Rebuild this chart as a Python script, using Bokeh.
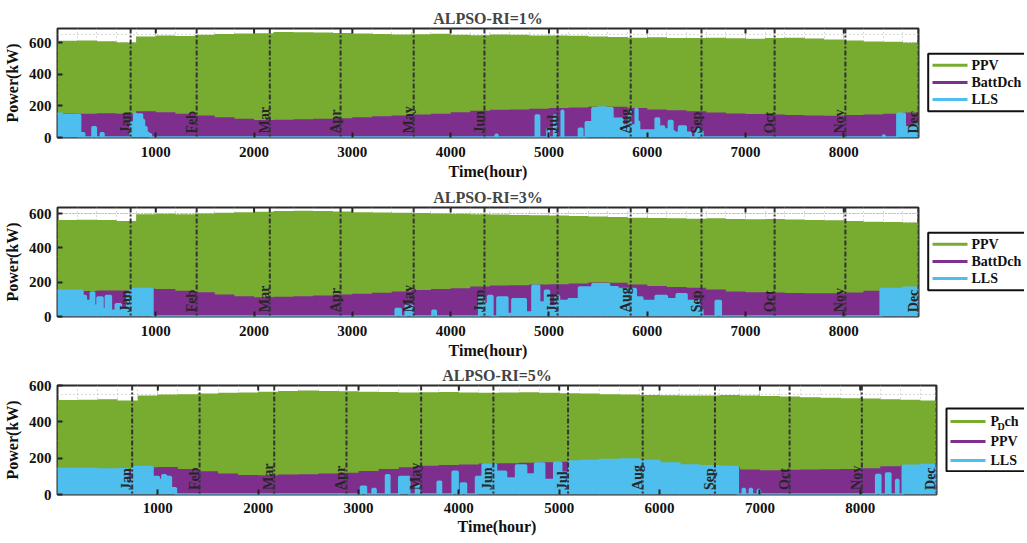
import math
from bokeh.plotting import figure
from bokeh.layouts import column, row
from bokeh.models import Range1d, FixedTicker, Span
from bokeh.core.properties import value
from bokeh.embed import file_html
from bokeh.resources import INLINE

GREEN = "#77AC30"
PURPLE = "#7E2F8E"
BLUE = "#4DBEEE"
FONT = "Liberation Serif"

# ---------------- data ----------------
HOURS_END = 8760
bin_hours = list(range(0, 8800, 200))  # 44 bin starts (200 h bins)
month_end_hours = [744, 1416, 2160, 2880, 3624, 4344, 5088, 5832, 6552, 7296, 8016, 8760]
month_names = ["Jan", "Feb", "Mar", "Apr", "May", "Jun", "Jul", "Aug", "Sep", "Oct", "Nov", "Dec"]
x_ticks = [1000, 2000, 3000, 4000, 5000, 6000, 7000, 8000]
y_ticks = [0, 200, 400, 600]

titles = ["ALPSO-RI=1%", "ALPSO-RI=3%", "ALPSO-RI=5%"]

# RI = 1 %
ppv1 = [612, 614, 610, 602, 640, 645, 642, 650, 655, 658, 660, 668, 666, 664, 662, 658, 655, 652, 654, 656, 650, 648,
        652, 650, 646, 645, 644, 640, 636, 632, 634, 630, 630, 632, 628, 625, 630, 632, 626, 620, 614, 608, 606, 600]
batt1 = [152, 150, 153, 150, 166, 160, 150, 140, 128, 118, 110, 112, 115, 118, 122, 128, 135, 140, 145, 150, 160, 170,
         176, 178, 182, 186, 190, 195, 194, 186, 178, 172, 166, 158, 152, 148, 146, 142, 140, 138, 142, 146, 150, 158]
lls1_hours = [0, 50, 68, 230, 237, 271, 356, 390, 441, 468, 746, 780, 800, 860, 880, 905, 925, 950, 4459, 4476,
              4866, 4900, 4985, 4998, 5053, 5068, 5130, 5145, 5305, 5340, 5375, 5442, 5500, 5580, 5646, 5748, 5816,
              5830, 5850, 5883, 5900, 5917, 6086, 6120, 6140, 6171, 6220, 6256, 6275, 6324, 6392, 6443, 6494, 6520,
              6545, 6561, 8400, 8415, 8545, 8620, 8720, 8760]
lls1_kw = [150, 88, 142, 0, 27, 0, 65, 0, 27, 0, 95, 150, 145, 110, 65, 30, 20, 0, 17, 0,
           139, 0, 55, 0, 139, 0, 170, 0, 55, 0, 97, 185, 190, 185, 118, 76, 170,
           60, 76, 181, 100, 44, 120, 60, 70, 50, 105, 40, 30, 70, 30, 0, 55, 20,
           40, 0, 12, 0, 150, 65, 80, 80]

# RI = 3 %
ppv2 = [562, 564, 562, 556, 595, 598, 596, 600, 605, 608, 610, 615, 616, 614, 612, 608, 606, 604, 603, 600, 598, 596,
        594, 592, 590, 588, 585, 582, 580, 576, 574, 572, 570, 572, 568, 566, 568, 565, 562, 560, 556, 552, 550, 548]
batt2 = [150, 148, 152, 152, 162, 160, 150, 142, 128, 118, 112, 115, 118, 122, 128, 132, 138, 145, 155, 160, 165, 175,
         180, 182, 186, 188, 192, 198, 196, 186, 178, 172, 168, 158, 146, 142, 140, 137, 136, 136, 140, 150, 158, 166]
lls2_hours = [0, 254, 288, 339, 373, 407, 458, 492, 543, 593, 644, 712, 739, 966, 3441, 3492, 3543, 3611, 3815, 3849,
              4290, 4340, 4380, 4425, 4476, 4577, 4628, 4764, 4832, 4900, 4960, 5000, 5068, 5102, 5200, 5306, 5442,
              5612, 5700, 5883, 5950, 6086, 6200, 6300, 6400, 6527, 6561, 6697, 6748, 8375, 8600, 8760]
lls2_kw = [150, 120, 91, 140, 62, 110, 43, 120, 33, 72, 43, 140, 160, 0, 43, 0, 62, 0, 33, 0,
           110, 72, 120, 0, 110, 15, 101, 24, 179, 82, 150, 60, 120, 90, 101, 169, 188,
           170, 160, 110, 90, 120, 100, 130, 90, 40, 0, 90, 0, 160, 168, 168]

# RI = 5 %
ppv3 = [520, 522, 524, 518, 545, 550, 552, 556, 560, 562, 565, 570, 572, 570, 568, 565, 564, 562, 563, 564, 562, 560,
        562, 563, 560, 558, 556, 552, 550, 548, 546, 545, 545, 548, 545, 542, 540, 536, 532, 530, 528, 525, 522, 518]
batt3 = [140, 140, 138, 139, 150, 152, 140, 128, 115, 108, 106, 110, 112, 116, 120, 130, 140, 150, 158, 162, 165, 170,
         172, 175, 178, 180, 185, 190, 192, 185, 170, 160, 155, 152, 138, 134, 136, 138, 139, 140, 145, 155, 160, 162]
lls3_hours = [0, 200, 400, 600, 698, 744, 800, 947, 1010, 1045, 1080, 1130, 1180, 3024, 3074, 3140, 3170, 3274, 3307,
              3406, 3506, 3573, 3606, 3789, 3822, 3938, 3988, 4021, 4071, 4171, 4237, 4370, 4470, 4570, 4670, 4760,
              4850, 4950, 5020, 5100, 5200, 5400, 5600, 5800, 6000, 6200, 6400, 6600, 6780, 6829, 6850, 6900, 6920,
              6980, 7000, 8159, 8200, 8258, 8300, 8358, 8380, 8424, 8600, 8760]
lls3_kw = [140, 140, 138, 139, 60, 150, 152, 97, 80, 106, 97, 35, 0, 42, 0, 30, 0, 106, 0,
           97, 0, 50, 0, 70, 0, 125, 0, 60, 0, 97, 165, 125, 88, 160, 110, 170,
           80, 175, 120, 182, 185, 190, 192, 185, 170, 160, 155, 152, 0, 30, 0, 30, 0,
           25, 0, 107, 0, 115, 0, 80, 0, 158, 162, 162]

legend_labels_12 = ["PPV", "BattDch", "LLS"]
legend_labels_3 = ["PDch", "PPV", "LLS"]

FRAME_H = 109
LABEL_SHIFT_H = 55   # month label gap left of the dashed line (hours)
LABEL_LIFT_KW = 25   # month label lift above the axis (kW)


def main_fig(title, ppv, batt, lls_h, lls_v, ytop, frame_w, tick_standoff, label_standoff):
    p = figure(frame_width=frame_w, frame_height=FRAME_H, x_range=Range1d(0, HOURS_END), y_range=Range1d(0, ytop),
               output_backend="svg", toolbar_location=None,
               min_border_left=52, min_border_right=4, min_border_top=0, min_border_bottom=0)
    xs = bin_hours + [HOURS_END]
    p.varea_step(x=xs, y1=0, y2=ppv + [ppv[-1]], step_mode="after", fill_color=GREEN)
    p.varea_step(x=xs, y1=0, y2=batt + [batt[-1]], step_mode="after", fill_color=PURPLE)
    p.varea_step(x=lls_h, y1=0, y2=lls_v, step_mode="after", fill_color=BLUE)
    p.step(x=lls_h, y=lls_v, mode="after", line_color=BLUE, line_width=2.5)

    for m in month_end_hours:
        p.add_layout(Span(location=m, dimension="height", line_color="#333333",
                          line_width=2, line_dash="5 2 2 2"))
    p.text(x=[m - LABEL_SHIFT_H for m in month_end_hours], y=[LABEL_LIFT_KW] * len(month_end_hours),
           text=month_names, angle=math.pi / 2,
           text_align="left", text_baseline="alphabetic",
           text_font=value(FONT), text_font_style="bold", text_font_size="14px", text_color="#262626")

    # inward tick marks on the top border (clipped to the frame: half of each dash shows)
    p.scatter(x=x_ticks, y=[ytop] * len(x_ticks), marker="dash", angle=math.pi / 2, size=10,
              line_color="#222222", line_width=2)

    p.xaxis.ticker = FixedTicker(ticks=x_ticks, minor_ticks=list(range(0, HOURS_END, 200)))
    p.yaxis.ticker = FixedTicker(ticks=y_ticks, minor_ticks=list(range(0, 800, 50)))
    p.xaxis.axis_label = "Time(hour)"
    p.yaxis.axis_label = "Power(kW)"
    for ax in (p.xaxis[0], p.yaxis[0]):
        ax.axis_line_color = None
        ax.major_tick_in = 5
        ax.major_tick_out = 0
        ax.minor_tick_out = 0
        ax.major_tick_line_width = 2
        ax.major_tick_line_color = "#222222"
        ax.minor_tick_line_color = None
        ax.major_label_text_font = FONT
        ax.major_label_text_font_style = "bold"
        ax.major_label_text_font_size = "15px"
        ax.major_label_text_color = "#111111"
        ax.axis_label_text_font = FONT
        ax.axis_label_text_font_style = "bold"
        ax.axis_label_text_font_size = "16px"
        ax.axis_label_text_color = "#111111"
    p.xaxis.major_label_standoff = tick_standoff
    p.xaxis.axis_label_standoff = label_standoff
    p.yaxis.major_label_standoff = 6
    p.yaxis.axis_label_standoff = 5

    for g in (p.xgrid[0], p.ygrid[0]):
        g.grid_line_color = "#9a9a9a"
        g.grid_line_dash = "1 2"
        g.minor_grid_line_color = "#b5b5b5"
        g.minor_grid_line_dash = "1 3"

    p.outline_line_color = "#2a2a2a"
    p.outline_line_width = 2
    p.background_fill_color = "white"

    p.title.text = title
    p.title.align = "center"
    p.title.text_font = FONT
    p.title.text_font_style = "bold"
    p.title.text_font_size = "16px"
    p.title.standoff = 3
    return p


def legend_fig(width, box_left, box_top, box_bottom, rows_y, line_x0, line_x1, text_x, labels, subscript=False):
    # coordinates: x in px from the figure's left edge, y in px below the top of the plot frame
    f = figure(title=None, frame_width=width, frame_height=FRAME_H, x_range=Range1d(0, width),
               y_range=Range1d(FRAME_H, 0),
               x_axis_type=None, y_axis_type=None, output_backend="svg", toolbar_location=None,
               min_border_left=0, min_border_right=0, min_border_top=0, min_border_bottom=0,
               outline_line_color=None)
    f.grid.visible = False
    f.quad(left=box_left, right=width + 20, top=box_top, bottom=box_bottom,
           fill_color="white", line_color="#111111", line_width=2)
    f.segment(x0=[line_x0] * 3, y0=rows_y, x1=[line_x1] * 3, y1=rows_y,
              line_color=[GREEN, PURPLE, BLUE], line_width=3)
    common = dict(text_font=value(FONT), text_font_style="bold", text_color="#111111")
    if subscript:
        f.text(x=[text_x], y=[rows_y[0]], text=[labels[0][0]], text_baseline="middle",
               text_font_size="14px", **common)
        f.text(x=[text_x + 7], y=[rows_y[0] + 5], text=[labels[0][1]], text_baseline="middle",
               text_font_size="10px", **common)
        f.text(x=[text_x + 14], y=[rows_y[0]], text=[labels[0][2:]], text_baseline="middle",
               text_font_size="14px", **common)
        f.text(x=[text_x] * 2, y=rows_y[1:], text=labels[1:], text_baseline="middle",
               text_font_size="14px", **common)
    else:
        f.text(x=[text_x] * 3, y=rows_y, text=labels, text_baseline="middle",
               text_font_size="14px", **common)
    return f


p1 = main_fig(titles[0], ppv1, batt1, lls1_hours, lls1_kw, 690, 861, 9, 3)
p2 = main_fig(titles[1], ppv2, batt2, lls2_hours, lls2_kw, 635, 861, 9, 3)
p3 = main_fig(titles[2], ppv3, batt3, lls3_hours, lls3_kw, 600, 879, 8, 2)

l1 = legend_fig(102, 5.7, 25.3, 82.7, [36.7, 54, 71], 10, 45, 49, legend_labels_12)
l2 = legend_fig(102, 5.7, 25.3, 82.7, [36.7, 54, 71], 10, 45, 49, legend_labels_12)
l3 = legend_fig(84, 6, 23, 85.7, [36, 56, 75], 10, 45, 50, legend_labels_3, subscript=True)

layout = column(row(p1, l1, margin=(6, 0, 0, 0)),
                row(p2, l2, margin=(3, 0, 0, 0)),
                row(p3, l3, margin=(2, 0, 0, 0)))

open("out.html", "w").write(file_html(layout, INLINE))
